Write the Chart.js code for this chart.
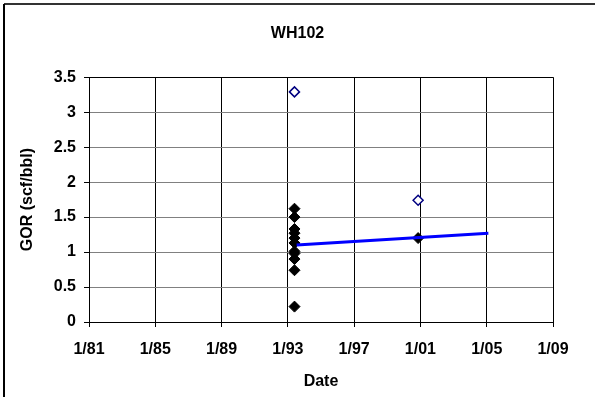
<!DOCTYPE html>
<html>
<head>
<meta charset="utf-8">
<script src="https://cdn.jsdelivr.net/npm/chart.js@4"></script>
<style>
  html, body { margin: 0; padding: 0; background: #fff; }
  #wrap { width: 595px; height: 397px; }
</style>
</head>
<body>
<div id="wrap"><canvas id="myChart"></canvas></div>
<script>
// dates are decimal years
let gorDates = [1993.4, 1993.4, 1993.4, 1993.4, 1993.4, 1993.4, 1993.4, 1993.4, 1993.4, 1993.4, 1993.4, 2000.86];
let gorValues = [1.62, 1.50, 1.33, 1.27, 1.20, 1.13, 1.01, 0.98, 0.90, 0.74, 0.22, 1.20];

let openDates = [1993.4, 2000.86];
let openValues = [3.29, 1.74];

let trendDates = [1993.53, 2005.1];
let trendValues = [1.10, 1.27];

let xTicks = [1981, 1985, 1989, 1993, 1997, 2001, 2005, 2009];
let yTicks = [0, 0.5, 1, 1.5, 2, 2.5, 3, 3.5];

function pts(xs, ys) {
  return xs.map((x, i) => ({x: x, y: ys[i]}));
}

const fam = '"Liberation Sans", Arial, sans-serif';

// left and top frame lines of the chart box
const frame = {
  id: 'frame',
  afterDraw(chart) {
    const c = chart.ctx;
    c.save();
    c.lineWidth = 2;
    c.strokeStyle = '#333';
    c.beginPath();
    c.moveTo(4, 4);
    c.lineTo(chart.width, 4);
    c.stroke();
    c.strokeStyle = '#000';
    c.beginPath();
    c.moveTo(4, 4);
    c.lineTo(4, chart.height);
    c.stroke();
    c.restore();
  }
};

const ctx = document.getElementById('myChart');

new Chart(ctx, {
  type: 'scatter',
  data: {
    datasets: [
      {
        label: 'GOR',
        data: pts(gorDates, gorValues),
        pointStyle: 'rectRot',
        pointRadius: 5.5,
        backgroundColor: '#000',
        borderColor: '#000',
        borderWidth: 1,
        order: 1
      },
      {
        label: 'GOR open',
        data: pts(openDates, openValues),
        pointStyle: 'rectRot',
        pointRadius: 5,
        backgroundColor: '#fff',
        borderColor: '#000080',
        borderWidth: 1.5,
        order: 2
      },
      {
        label: 'Trend',
        type: 'line',
        data: pts(trendDates, trendValues),
        borderColor: '#0000FF',
        borderWidth: 3,
        pointRadius: 0,
        fill: false,
        order: 0
      }
    ]
  },
  options: {
    responsive: true,
    maintainAspectRatio: false,
    animation: false,
    layout: { padding: 0 },
    plugins: {
      legend: { display: false },
      tooltip: { enabled: false },
      title: {
        display: true,
        text: 'WH102',
        color: '#000',
        font: { family: fam, size: 16, weight: 'bold' },
        padding: { top: 24, bottom: 34 }
      }
    },
    scales: {
      x: {
        type: 'linear',
        min: 1981,
        max: 2009,
        afterBuildTicks(scale) {
          scale.ticks = xTicks.map(v => ({value: v}));
        },
        afterFit(scale) { scale.height = 75; },
        ticks: {
          color: '#000',
          font: { family: fam, size: 16, weight: 'bold' },
          padding: 13,
          maxRotation: 0,
          callback: v => '1/' + String(v % 100).padStart(2, '0')
        },
        grid: { color: '#000', tickColor: '#000', tickLength: 5, lineWidth: 1 },
        border: { color: '#000', width: 1 },
        title: {
          display: true,
          text: 'Date',
          color: '#000',
          font: { family: fam, size: 16, weight: 'bold' },
          padding: { top: 0, bottom: 6 }
        }
      },
      y: {
        min: 0,
        max: 3.5,
        afterBuildTicks(scale) {
          scale.ticks = yTicks.map(v => ({value: v}));
        },
        afterFit(scale) { scale.width = 89; },
        ticks: {
          color: '#000',
          font: { family: fam, size: 16, weight: 'bold' },
          padding: 8,
          callback: v => String(v)
        },
        grid: {
          color: c => (c.tick && (c.tick.value === 3.5 || c.tick.value === 0)) ? '#000' : '#808080',
          tickColor: '#000',
          tickLength: 5,
          lineWidth: 1
        },
        border: { color: '#000', width: 1 },
        title: {
          display: true,
          text: 'GOR (scf/bbl)',
          color: '#000',
          font: { family: fam, size: 16, weight: 'bold' },
          padding: { top: 18, bottom: 0 }
        }
      },
      // empty right-hand strip, keeps the plot's right edge where the reference has it
      yRight: {
        position: 'right',
        display: true,
        min: 0,
        max: 3.5,
        afterFit(scale) { scale.width = 42; },
        ticks: { display: false },
        grid: { display: false, drawTicks: false },
        border: { display: false }
      }
    }
  },
  plugins: [frame]
});
</script>
</body>
</html>
